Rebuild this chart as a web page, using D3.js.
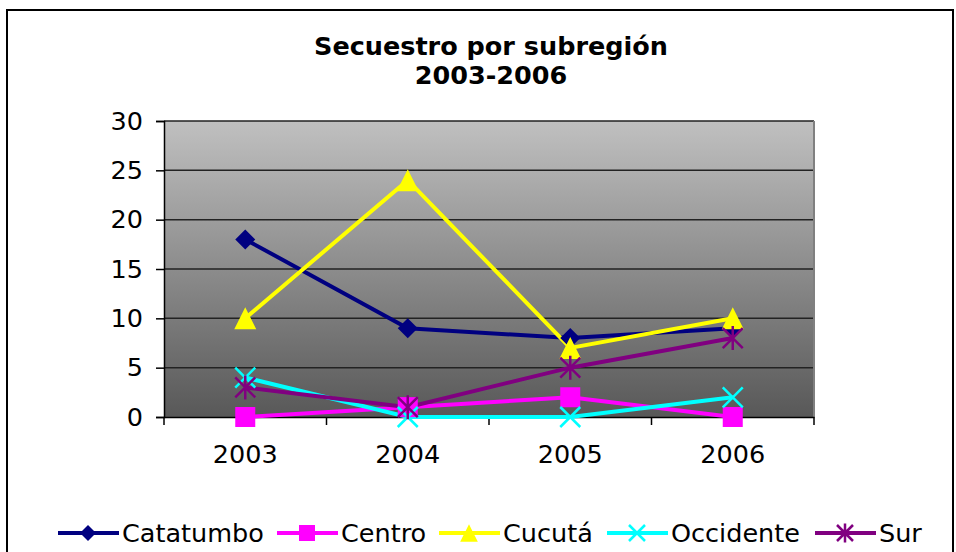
<!DOCTYPE html>
<html><head><meta charset="utf-8">
<script src="https://cdn.jsdelivr.net/npm/d3@7"></script>
<style>body{margin:0;background:#fff}svg{display:block}</style>
</head><body>
<script>
const categories = ["2003","2004","2005","2006"];
const seriesNames = ["Catatumbo","Centro","Cucutá","Occidente","Sur"];
const catatumbo = [18,9,8,9];
const centro = [0,1,2,0];
const cucuta = [10,24,7,10];
const occidente = [4,0,0,2];
const sur = [3,1,5,8];
const yTicks = [0,5,10,15,20,25,30];
const colors = ["#000080","#FF00FF","#FFFF00","#00FFFF","#800080"];
const markers = ["diamond","square","triangle","x","star"];
const allValues = [catatumbo,centro,cucuta,occidente,sur];

(function(){
const W=956,H=552;
const svg=d3.select("body").append("svg").attr("width",W).attr("height",H);
const font="DejaVu Sans, Verdana, sans-serif";

svg.append("rect").attr("x",7).attr("y",10).attr("width",946).attr("height",560)
  .attr("fill","#fff").attr("stroke","#000").attr("stroke-width",2);

const pL=164,pR=814,pT=121,pB=417;
const x=d3.scaleBand().domain(categories).range([pL,pR]);
const y=d3.scaleLinear().domain([0,30]).range([pB,pT]);

const defs=svg.append("defs");
const grad=defs.append("linearGradient").attr("id","bg").attr("x1",0).attr("y1",0).attr("x2",0).attr("y2",1);
grad.append("stop").attr("offset","0%").attr("stop-color","#c0c0c0");
grad.append("stop").attr("offset","100%").attr("stop-color","#585858");
svg.append("rect").attr("x",pL).attr("y",pT).attr("width",pR-pL).attr("height",pB-pT).attr("fill","url(#bg)");

svg.append("g").selectAll("line").data(yTicks.filter(d=>d>0)).join("line")
  .attr("x1",pL).attr("x2",pR).attr("y1",d=>y(d)).attr("y2",d=>y(d))
  .attr("stroke","#222").attr("stroke-width",1.5);
svg.append("line").attr("x1",pR).attr("x2",pR).attr("y1",pT).attr("y2",pB).attr("stroke","#808080").attr("stroke-width",2);

const yAxis=svg.append("g").attr("transform",`translate(${pL},0)`)
  .call(d3.axisLeft(y).tickValues(yTicks).tickSize(8).tickPadding(13));
yAxis.select(".domain").attr("stroke","#000").attr("stroke-width",1.5);
yAxis.selectAll(".tick line").attr("stroke","#000").attr("stroke-width",1.5);
yAxis.selectAll("text").attr("font-family",font).attr("font-size",25.5).attr("fill","#000");

const xAxis=svg.append("g").attr("transform",`translate(0,${pB})`)
  .call(d3.axisBottom(x).tickSize(0).tickPadding(28));
xAxis.select(".domain").attr("stroke","#000").attr("stroke-width",1.5);
xAxis.selectAll("text").attr("font-family",font).attr("font-size",25.5).attr("fill","#000");
const bounds=categories.map(c=>x(c)).concat([pR]);
xAxis.selectAll(".bt").data(bounds).join("line").attr("class","bt")
  .attr("x1",d=>d).attr("x2",d=>d).attr("y1",0).attr("y2",8).attr("stroke","#000").attr("stroke-width",1.5);

function drawMarker(g,type,color,cx,cy,s){
  if(type==="diamond"){
    g.append("path").attr("d",`M${cx},${cy-s}L${cx+s},${cy}L${cx},${cy+s}L${cx-s},${cy}Z`).attr("fill",color);
  }else if(type==="square"){
    g.append("rect").attr("x",cx-s).attr("y",cy-s).attr("width",2*s).attr("height",2*s).attr("fill",color);
  }else if(type==="triangle"){
    g.append("path").attr("d",`M${cx},${cy-1.1*s}L${cx+1.1*s},${cy+1.1*s}L${cx-1.1*s},${cy+1.1*s}Z`).attr("fill",color);
  }else if(type==="x"){
    g.append("path").attr("d",`M${cx-s},${cy-s}L${cx+s},${cy+s}M${cx+s},${cy-s}L${cx-s},${cy+s}`).attr("stroke",color).attr("stroke-width",2.5);
  }else{
    g.append("path").attr("d",`M${cx-s},${cy-s}L${cx+s},${cy+s}M${cx+s},${cy-s}L${cx-s},${cy+s}M${cx},${cy-1.2*s}L${cx},${cy+1.2*s}`).attr("stroke",color).attr("stroke-width",2.5);
  }
}

const line=d3.line().x((d,i)=>x(categories[i])+x.bandwidth()/2).y(d=>y(d));
allValues.forEach((vals,si)=>{
  svg.append("path").datum(vals).attr("d",line).attr("fill","none").attr("stroke",colors[si]).attr("stroke-width",4);
});
allValues.forEach((vals,si)=>{
  const g=svg.append("g");
  vals.forEach((v,i)=>drawMarker(g,markers[si],colors[si],x(categories[i])+x.bandwidth()/2,y(v),10));
});

const t=svg.append("text").attr("text-anchor","middle").attr("font-family",font).attr("font-weight","bold").attr("font-size",25.5).attr("fill","#000");
t.append("tspan").attr("x",491).attr("y",55).text("Secuestro por subregión");
t.append("tspan").attr("x",491).attr("y",84).text("2003-2006");

const legX=[58,277,439,607,815];
const lg=svg.append("g");
seriesNames.forEach((n,i)=>{
  const lx=legX[i], ly=533;
  lg.append("line").attr("x1",lx).attr("x2",lx+61).attr("y1",ly).attr("y2",ly).attr("stroke",colors[i]).attr("stroke-width",4);
  drawMarker(lg,markers[i],colors[i],lx+30,ly,8);
  lg.append("text").attr("x",lx+64).attr("y",ly+9).attr("font-family",font).attr("font-size",25.5).attr("fill","#000").text(n);
});
})();
</script>
</body></html>
